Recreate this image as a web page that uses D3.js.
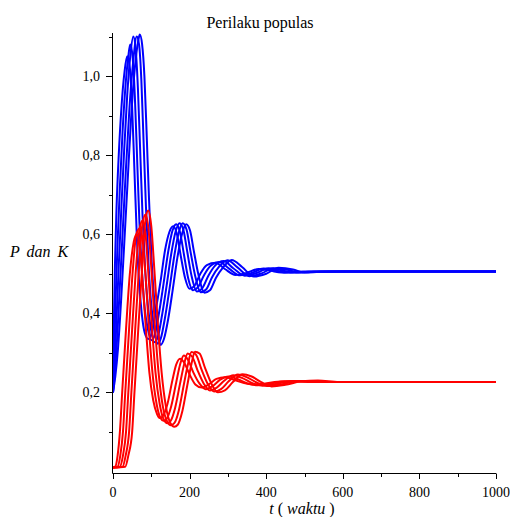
<!DOCTYPE html>
<html><head><meta charset="utf-8">
<script src="https://cdn.jsdelivr.net/npm/d3@7"></script>
<style>body{margin:0;background:#fff}svg{display:block}</style>
</head><body>
<script>
// ---- data (t, value) ----
const title = "Perilaku populas";
const xTicks = [0, 200, 400, 600, 800, 1000];
const xMinor = [100, 300, 500, 700, 900];
const yTicks = [0.2, 0.4, 0.6, 0.8, 1.0];
const yMinor = [0.1, 0.3, 0.5, 0.7, 0.9, 1.1];

const P1 = [[0,.2],[2,.36],[5,.52],[9,.66],[15,.8],[22,.92],[30,1.01],[37,1.05],[44,1.02],[50,.92],[56,.76],[62,.6],[68,.48],[75,.4],[83,.35],[92,.335],[101,.35],[112,.41],[124,.48],[136,.56],[147,.605],[157,.62],[167,.6],[177,.545],[188,.49],[200,.462],[213,.47],[228,.5],[245,.522],[268,.528],[292,.512],[320,.497],[348,.502],[380,.512],[410,.508],[440,.503],[480,.505],[560,.506],[1000,.506]];
const P2 = [[0,.2],[3,.3],[7,.44],[12,.58],[18,.72],[25,.86],[33,.98],[40,1.05],[45,1.08],[51,1.05],[57,.95],[63,.79],[69,.63],[76,.5],[83,.41],[91,.36],[100,.332],[109,.345],[120,.4],[132,.475],[144,.555],[155,.608],[165,.625],[175,.605],[185,.55],[196,.49],[209,.458],[222,.466],[238,.497],[255,.52],[278,.53],[303,.513],[332,.496],[362,.502],[393,.513],[425,.508],[455,.503],[495,.505],[570,.506],[1000,.506]];
const P3 = [[0,.2],[4,.27],[9,.38],[15,.52],[22,.67],[29,.81],[37,.95],[45,1.05],[53,1.1],[59,1.07],[65,.97],[71,.81],[77,.65],[84,.51],[91,.42],[99,.36],[108,.327],[117,.34],[128,.395],[140,.47],[152,.55],[163,.605],[174,.628],[184,.61],[194,.555],[205,.495],[219,.455],[233,.463],[249,.495],[266,.52],[289,.532],[314,.514],[344,.495],[375,.502],[406,.514],[440,.509],[470,.503],[510,.505],[585,.506],[1000,.506]];
const P4 = [[0,.2],[5,.25],[11,.34],[18,.47],[26,.62],[34,.77],[43,.92],[52,1.03],[62,1.1],[68,1.08],[74,.99],[80,.83],[86,.67],[93,.52],[100,.42],[108,.36],[116,.323],[125,.337],[136,.39],[148,.465],[160,.545],[171,.602],[182,.628],[192,.612],[202,.558],[214,.497],[229,.453],[243,.46],[259,.492],[277,.518],[299,.534],[325,.516],[356,.494],[388,.501],[419,.514],[455,.51],[485,.503],[525,.505],[600,.506],[1000,.506]];
const P5 = [[0,.2],[6,.24],[13,.31],[21,.43],[29,.57],[38,.73],[47,.89],[57,1.02],[66,1.09],[70,1.105],[76,1.08],[82,1.0],[88,.85],[94,.69],[101,.53],[108,.43],[116,.365],[124,.32],[133,.335],[144,.385],[156,.46],[168,.54],[180,.6],[191,.625],[201,.61],[211,.558],[223,.498],[239,.452],[253,.458],[269,.49],[288,.517],[310,.535],[337,.517],[368,.493],[400,.5],[432,.515],[470,.511],[500,.503],[540,.505],[615,.506],[1000,.506]];

const K1 = [[0,.01],[6,.012],[12,.04],[18,.1],[24,.2],[34,.36],[44,.5],[54,.58],[62,.6],[70,.57],[78,.47],[86,.36],[95,.25],[105,.18],[115,.145],[122,.135],[130,.14],[142,.17],[155,.23],[165,.27],[175,.285],[186,.275],[200,.245],[215,.22],[232,.212],[250,.22],[270,.234],[292,.238],[315,.232],[340,.224],[365,.22],[395,.222],[430,.227],[470,.228],[520,.226],[600,.226],[1000,.226]];
const K2 = [[0,.01],[12,.012],[19,.04],[26,.1],[32,.2],[42,.36],[51,.5],[61,.6],[70,.615],[78,.58],[86,.48],[94,.36],[103,.25],[114,.17],[124,.135],[132,.128],[140,.133],[152,.165],[165,.225],[175,.27],[185,.293],[196,.282],[210,.25],[226,.222],[242,.208],[260,.216],[280,.232],[302,.24],[326,.233],[350,.223],[378,.218],[410,.222],[448,.228],[490,.228],[540,.226],[620,.226],[1000,.226]];
const K3 = [[0,.01],[18,.012],[26,.04],[34,.1],[40,.2],[50,.36],[59,.5],[69,.61],[77,.635],[85,.6],[93,.49],[102,.36],[111,.25],[122,.17],[133,.13],[142,.122],[150,.127],[162,.16],[175,.222],[185,.268],[195,.298],[207,.29],[221,.255],[237,.222],[253,.205],[271,.212],[291,.23],[314,.243],[338,.236],[362,.224],[390,.217],[424,.221],[464,.228],[505,.229],[560,.226],[640,.226],[1000,.226]];
const K4 = [[0,.01],[25,.012],[33,.04],[42,.1],[48,.2],[58,.36],[67,.5],[76,.62],[85,.65],[93,.61],[101,.5],[110,.36],[119,.25],[130,.165],[142,.125],[151,.117],[160,.122],[172,.155],[185,.22],[195,.268],[205,.302],[217,.295],[231,.258],[247,.222],[264,.202],[282,.208],[302,.228],[326,.245],[350,.238],[375,.225],[402,.216],[438,.22],[478,.228],[520,.229],[575,.226],[660,.226],[1000,.226]];
const K5 = [[0,.01],[32,.012],[40,.04],[50,.1],[56,.2],[66,.36],[75,.5],[84,.63],[92,.66],[100,.62],[108,.51],[118,.36],[127,.25],[138,.165],[150,.122],[160,.113],[169,.118],[181,.152],[194,.218],[204,.268],[214,.303],[226,.298],[241,.26],[257,.222],[274,.2],[292,.205],[313,.226],[338,.246],[362,.24],[387,.226],[414,.215],[450,.219],[492,.228],[535,.23],[590,.226],[680,.226],[1000,.226]];

const pSeries = [P1, P2, P3, P4, P5];
const kSeries = [K1, K2, K3, K4, K5];

// ---- drawing ----
const W = 510, H = 517;
const svg = d3.select("body").append("svg").attr("width", W).attr("height", H);
const x = d3.scaleLinear().domain([0, 1000]).range([113, 496]);
const y = d3.scaleLinear().domain([-0.004, 1.109]).range([473, 33]);
const fmt = d => d3.format(".1f")(d).replace(".", ",");
const serif = "'Liberation Serif', 'Times New Roman', serif";

const line = d3.line().x(d => x(d[0])).y(d => y(d[1])).curve(d3.curveMonotoneX);
const g = svg.append("g");
g.selectAll("path.p").data(pSeries).join("path").attr("class","p")
  .attr("d", line).attr("fill","none").attr("stroke","#0000ff").attr("stroke-width",2);
g.selectAll("path.k").data(kSeries).join("path").attr("class","k")
  .attr("d", line).attr("fill","none").attr("stroke","#ff0000").attr("stroke-width",2);

// axes
const ax = svg.append("g").attr("stroke","#000").attr("stroke-width",1);
ax.append("line").attr("x1",112.5).attr("x2",112.5).attr("y1",33).attr("y2",473.5);
ax.append("line").attr("x1",112.5).attr("x2",496).attr("y1",473.5).attr("y2",473.5);
ax.selectAll("line.ym").data(yTicks).join("line").attr("class","ym")
  .attr("x1",106).attr("x2",112.5).attr("y1",d=>Math.round(y(d))+0.5).attr("y2",d=>Math.round(y(d))+0.5);
ax.selectAll("line.yn").data(yMinor).join("line").attr("class","yn")
  .attr("x1",109).attr("x2",112.5).attr("y1",d=>Math.round(y(d))+0.5).attr("y2",d=>Math.round(y(d))+0.5);
ax.selectAll("line.xm").data(xTicks).join("line").attr("class","xm")
  .attr("x1",d=>Math.round(x(d))+0.5).attr("x2",d=>Math.round(x(d))+0.5).attr("y1",473.5).attr("y2",479);
ax.selectAll("line.xn").data(xMinor).join("line").attr("class","xn")
  .attr("x1",d=>Math.round(x(d))+0.5).attr("x2",d=>Math.round(x(d))+0.5).attr("y1",473.5).attr("y2",477);

svg.selectAll("text.yl").data(yTicks).join("text").attr("class","yl")
  .attr("x",100).attr("y",d=>y(d)+5).attr("text-anchor","end")
  .attr("font-family",serif).attr("font-size",14).text(fmt);
svg.selectAll("text.xl").data(xTicks).join("text").attr("class","xl")
  .attr("x",d=>x(d)).attr("y",497).attr("text-anchor","middle")
  .attr("font-family",serif).attr("font-size",14).text(d=>d);

svg.append("text").attr("x",260).attr("y",28).attr("text-anchor","middle")
  .attr("font-family",serif).attr("font-size",16).text(title);

const yl = svg.append("text").attr("x",10).attr("y",257).attr("font-family",serif)
  .attr("font-size",16).attr("font-style","italic").attr("word-spacing",3);
yl.text("P dan K");

const xl = svg.append("text").attr("x",302).attr("y",514).attr("text-anchor","middle")
  .attr("font-family",serif).attr("font-size",16);
xl.append("tspan").attr("font-style","italic").text("t");
xl.append("tspan").text(" ( ");
xl.append("tspan").attr("font-style","italic").text("waktu");
xl.append("tspan").text(" )");
</script>
</body></html>
